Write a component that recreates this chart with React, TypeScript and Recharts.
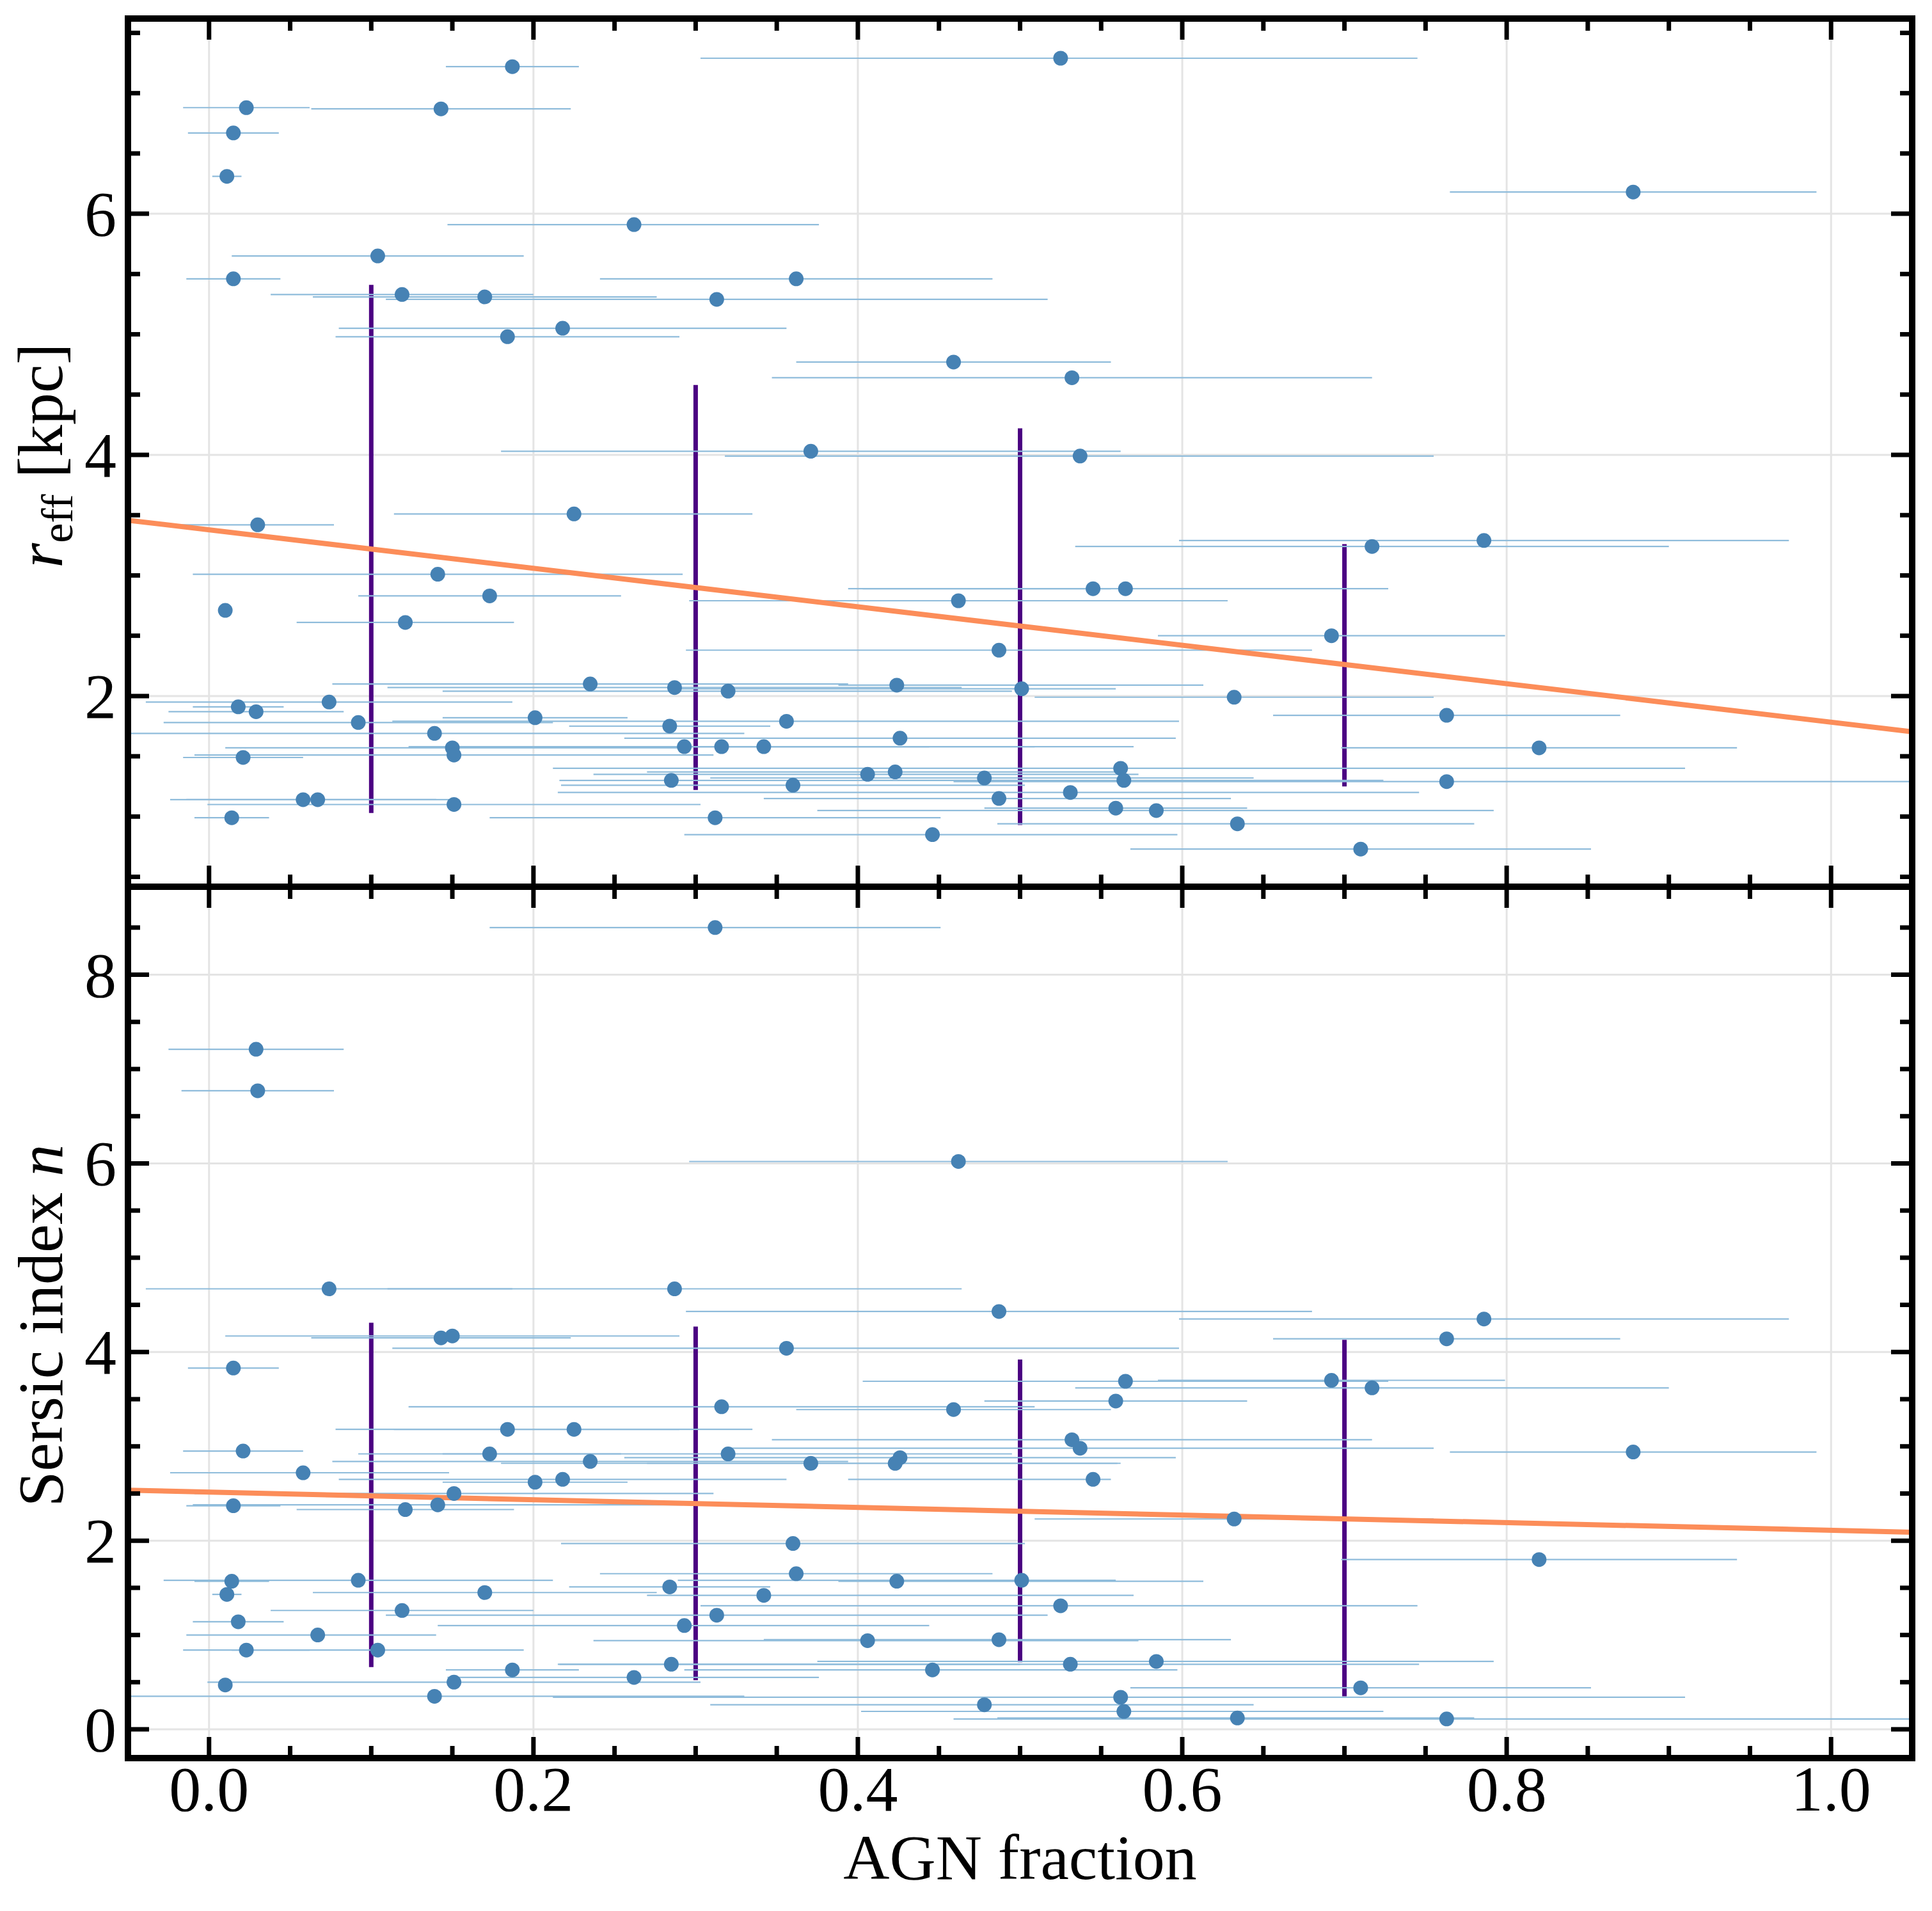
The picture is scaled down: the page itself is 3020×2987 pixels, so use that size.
import { ScatterChart, Scatter, XAxis, YAxis, ErrorBar, ReferenceLine, CartesianGrid } from 'recharts';

// AGN fraction with its asymmetric range, shared by both panels
const agnFraction = [
  0.187, 0.525, 0.023, 0.143, 0.015, 0.011, 0.878, 0.262, 0.104, 0.015,
  0.362, 0.119, 0.170, 0.313, 0.218, 0.184, 0.459, 0.532, 0.371, 0.537,
  0.225, 0.030, 0.786, 0.717, 0.141, 0.545, 0.565, 0.462, 0.173, 0.010,
  0.121, 0.692, 0.487, 0.235, 0.287, 0.320, 0.424, 0.501, 0.632, 0.074,
  0.018, 0.029, 0.201, 0.763, 0.356, 0.092, 0.284, 0.139, 0.426, 0.150,
  0.151, 0.021, 0.293, 0.316, 0.342, 0.820, 0.285, 0.058, 0.067, 0.151,
  0.014, 0.312, 0.406, 0.423, 0.478, 0.562, 0.564, 0.360, 0.531, 0.487,
  0.559, 0.584, 0.634, 0.446, 0.763, 0.710,
];
const agnLow = [
  0.146, 0.303, -0.016, 0.063, -0.013, 0.002, 0.765, 0.147, 0.014, -0.014,
  0.241, 0.038, 0.064, 0.109, 0.080, 0.078, 0.362, 0.347, 0.180, 0.318,
  0.114, -0.017, 0.598, 0.534, -0.010, 0.394, 0.403, 0.296, 0.092, 0.010,
  0.054, 0.585, 0.294, 0.076, 0.110, 0.144, 0.388, 0.289, 0.509, -0.039,
  -0.010, -0.025, 0.144, 0.656, 0.113, -0.028, 0.222, -0.05, 0.256, 0.010,
  -0.009, -0.016, 0.141, 0.123, 0.270, 0.698, 0.216, -0.024, -0.014, -0.001,
  -0.009, 0.173, 0.237, 0.270, 0.309, 0.212, 0.402, 0.217, 0.215, 0.342,
  0.478, 0.375, 0.486, 0.293, 0.459, 0.568,
];
const agnHigh = [
  0.228, 0.745, 0.062, 0.223, 0.043, 0.020, 0.991, 0.376, 0.194, 0.044,
  0.483, 0.200, 0.276, 0.517, 0.356, 0.290, 0.556, 0.717, 0.562, 0.755,
  0.335, 0.077, 0.974, 0.900, 0.292, 0.556, 0.727, 0.628, 0.254, 0.010,
  0.188, 0.799, 0.680, 0.394, 0.464, 0.495, 0.613, 0.559, 0.755, 0.187,
  0.046, 0.083, 0.258, 0.870, 0.598, 0.212, 0.346, 0.330, 0.596, 0.290,
  0.311, 0.058, 0.444, 0.509, 0.570, 0.942, 0.500, 0.148, 0.140, 0.303,
  0.037, 0.451, 0.573, 0.560, 0.644, 0.910, 0.724, 0.503, 0.746, 0.630,
  0.640, 0.792, 0.780, 0.597, 1.050, 0.852,
];
const rEff = [
  7.22, 7.29, 6.88, 6.87, 6.67, 6.31, 6.18, 5.91, 5.65, 5.46,
  5.46, 5.33, 5.31, 5.29, 5.05, 4.98, 4.77, 4.64, 4.03, 3.99,
  3.51, 3.42, 3.29, 3.24, 3.01, 2.89, 2.89, 2.79, 2.83, 2.71,
  2.61, 2.50, 2.38, 2.10, 2.07, 2.04, 2.09, 2.06, 1.99, 1.95,
  1.91, 1.87, 1.82, 1.84, 1.79, 1.78, 1.75, 1.69, 1.65, 1.57,
  1.51, 1.49, 1.58, 1.58, 1.58, 1.57, 1.30, 1.14, 1.14, 1.10,
  0.99, 0.99, 1.35, 1.37, 1.32, 1.40, 1.30, 1.26, 1.20, 1.15,
  1.07, 1.05, 0.94, 0.85, 1.29, 0.73,
];
const sersicN = [
  0.63, 1.31, 0.84, 4.15, 3.83, 1.43, 2.94, 0.55, 0.84, 2.37,
  1.65, 1.26, 1.45, 1.21, 2.65, 3.18, 3.39, 3.07, 2.82, 2.98,
  3.18, 6.77, 4.35, 3.62, 2.38, 2.65, 3.69, 6.02, 2.92, 0.47,
  2.33, 3.70, 4.43, 2.84, 4.67, 2.92, 1.57, 1.58, 2.23, 4.67,
  1.14, 7.21, 2.62, 4.14, 4.04, 1.58, 1.51, 0.35, 2.88, 4.17,
  2.50, 2.95, 1.10, 3.42, 1.42, 1.80, 0.69, 2.72, 1.00, 0.50,
  1.57, 8.50, 0.94, 2.82, 0.26, 0.34, 0.19, 1.97, 0.69, 0.95,
  3.48, 0.72, 0.12, 0.63, 0.11, 0.44,
];

// binned spread
const binCentres = [0.1, 0.3, 0.5, 0.7];
const binLowR = [1.03, 1.22, 0.93, 1.25];
const binHighR = [5.41, 4.58, 4.22, 3.26];
const binLowN = [0.66, 0.52, 0.71, 0.35];
const binHighN = [4.31, 4.27, 3.92, 4.13];

// linear fits
const fitX = [-0.05, 1.05];
const fitR = [3.458, 1.703];
const fitN = [2.535, 2.09];

// ticks
const xMajorTicks = [0, 0.2, 0.4, 0.6, 0.8, 1.0];
const xMinorTicks = [0.05, 0.1, 0.15, 0.25, 0.3, 0.35, 0.45, 0.5, 0.55, 0.65, 0.7, 0.75, 0.85, 0.9, 0.95];
const yMajorR = [2, 4, 6];
const yMinorR = [0.5, 1, 1.5, 2.5, 3, 3.5, 4.5, 5, 5.5, 6.5, 7, 7.5];
const yMajorN = [0, 2, 4, 6, 8];
const yMinorN = [0.5, 1, 1.5, 2.5, 3, 3.5, 4.5, 5, 5.5, 6.5, 7, 7.5, 8.5];

const xDomain = [-0.05, 1.05];
const rDomain = [0.418, 7.619];
const nDomain = [-0.305, 8.933];

const W = 3020;
const H = 2987;
const PLOT_LEFT = 200;
const PLOT_RIGHT = 2989;
const TOP_Y = 29;
const MID_Y = 1386;
const BOTTOM_Y = 2748;
const MAJOR_LEN = 33;
const MINOR_LEN = 19;
const TICK_W = 7;
const FONT = "'Liberation Serif', 'Times New Roman', serif";

const DOT = '#4682b4';
const ERR = '#8fbcdb';
const FIT = '#fc8d59';
const BIN = '#4b0082';

const sortNum = (a: number[]) => [...a].sort((p, q) => p - q);
const xTicks = sortNum([...xMajorTicks, ...xMinorTicks]);

const makeXTick = (top: number, bottom: number, labels: boolean) => (props: any) => {
  const { x, payload } = props;
  const v = payload.value;
  const major = xMajorTicks.includes(v);
  const len = major ? MAJOR_LEN : MINOR_LEN;
  return (
    <g>
      <line x1={x} x2={x} y1={bottom} y2={bottom - len} stroke="#000" strokeWidth={TICK_W} />
      <line x1={x} x2={x} y1={top} y2={top + len} stroke="#000" strokeWidth={TICK_W} />
      {labels && major && (
        <text x={x} y={bottom + 82} textAnchor="middle" fontSize={100} fontFamily={FONT} fill="#000">
          {v.toFixed(1)}
        </text>
      )}
    </g>
  );
};

const makeYTick = (majors: number[]) => (props: any) => {
  const { y, payload } = props;
  const v = payload.value;
  const major = majors.includes(v);
  const len = major ? MAJOR_LEN : MINOR_LEN;
  return (
    <g>
      <line x1={PLOT_LEFT} x2={PLOT_LEFT + len} y1={y} y2={y} stroke="#000" strokeWidth={TICK_W} />
      <line x1={PLOT_RIGHT} x2={PLOT_RIGHT - len} y1={y} y2={y} stroke="#000" strokeWidth={TICK_W} />
      {major && (
        <text x={182} y={y + 34} textAnchor="end" fontSize={100} fontFamily={FONT} fill="#000">
          {v}
        </text>
      )}
    </g>
  );
};

const dotShape = (p: any) => <circle cx={p.cx} cy={p.cy} r={11.5} fill={DOT} />;
const noShape = () => <g />;

interface PanelProps {
  values: number[];
  yDomain: number[];
  yMajor: number[];
  yMinor: number[];
  binLow: number[];
  binHigh: number[];
  fit: number[];
  height: number;
  margin: { top: number; bottom: number };
  plotTop: number;
  plotBottom: number;
  showXLabels: boolean;
}

const Panel = ({ values, yDomain, yMajor, yMinor, binLow, binHigh, fit, height, margin, plotTop, plotBottom, showXLabels }: PanelProps) => {
  const rows = agnFraction.map((x, i) => ({
    x,
    y: values[i],
    err: [x - agnLow[i], agnHigh[i] - x],
  }));
  const fitPts = fitX.map((x, i) => ({ x, y: fit[i] }));
  const yTicks = sortNum([...yMajor, ...yMinor]);
  // axes get a 1px band (a zero-sized axis is not drawn); margins absorb it
  return (
    <ScatterChart
      width={W}
      height={height}
      margin={{ top: margin.top, bottom: margin.bottom - 1, left: PLOT_LEFT - 1, right: W - PLOT_RIGHT }}
    >
      <CartesianGrid verticalValues={xMajorTicks} horizontalValues={yMajor} stroke="#e4e4e4" strokeWidth={3} />
      <XAxis
        type="number"
        dataKey="x"
        domain={xDomain}
        ticks={xTicks}
        interval={0}
        allowDataOverflow
        height={1}
        axisLine={false}
        tickLine={false}
        tick={makeXTick(plotTop, plotBottom, showXLabels)}
      />
      <YAxis
        type="number"
        dataKey="y"
        domain={yDomain}
        ticks={yTicks}
        interval={0}
        allowDataOverflow
        width={1}
        axisLine={false}
        tickLine={false}
        tick={makeYTick(yMajor)}
      />
      <Scatter data={fitPts} line={{ stroke: FIT, strokeWidth: 8 }} shape={noShape} isAnimationActive={false} />
      {binCentres.map((b, i) => (
        <ReferenceLine
          key={b}
          segment={[{ x: b, y: binLow[i] }, { x: b, y: binHigh[i] }]}
          stroke={BIN}
          strokeWidth={7}
        />
      ))}
      <Scatter data={rows} shape={dotShape} isAnimationActive={false} />
      <Scatter data={rows} shape={noShape} isAnimationActive={false}>
        <ErrorBar dataKey="err" direction="x" width={0} stroke={ERR} strokeWidth={2.2} isAnimationActive={false} />
      </Scatter>
    </ScatterChart>
  );
};

export default function App() {
  const bottomHeight = H - MID_Y;
  return (
    <div style={{ position: 'absolute', left: 0, top: 0, width: W, height: H, background: '#fff' }}>
      <div style={{ position: 'absolute', left: 0, top: 0 }}>
        <Panel
          values={rEff}
          yDomain={rDomain}
          yMajor={yMajorR}
          yMinor={yMinorR}
          binLow={binLowR}
          binHigh={binHighR}
          fit={fitR}
          height={MID_Y + 1}
          margin={{ top: TOP_Y, bottom: 1 }}
          plotTop={TOP_Y}
          plotBottom={MID_Y}
          showXLabels={false}
        />
      </div>
      <div style={{ position: 'absolute', left: 0, top: MID_Y }}>
        <Panel
          values={sersicN}
          yDomain={nDomain}
          yMajor={yMajorN}
          yMinor={yMinorN}
          binLow={binLowN}
          binHigh={binHighN}
          fit={fitN}
          height={bottomHeight}
          margin={{ top: 0, bottom: bottomHeight - (BOTTOM_Y - MID_Y) }}
          plotTop={0}
          plotBottom={BOTTOM_Y - MID_Y}
          showXLabels
        />
      </div>
      <svg
        width={W}
        height={H}
        style={{ position: 'absolute', left: 0, top: 0, pointerEvents: 'none' }}
        fontFamily={FONT}
      >
        <rect x={PLOT_LEFT} y={TOP_Y} width={PLOT_RIGHT - PLOT_LEFT} height={MID_Y - TOP_Y} fill="none" stroke="#000" strokeWidth={10} />
        <rect x={PLOT_LEFT} y={MID_Y} width={PLOT_RIGHT - PLOT_LEFT} height={BOTTOM_Y - MID_Y} fill="none" stroke="#000" strokeWidth={10} />
        <text x={97} y={712} transform="rotate(-90 97 712)" textAnchor="middle" fontSize={100} fill="#000">
          <tspan fontStyle="italic">r</tspan>
          <tspan fontSize={70} dy={16}>eff</tspan>
          <tspan dy={-16}> [kpc]</tspan>
        </text>
        <text x={97} y={2072} transform="rotate(-90 97 2072)" textAnchor="middle" fontSize={100} fill="#000">
          Sersic index <tspan fontStyle="italic">n</tspan>
        </text>
        <text x={(PLOT_LEFT + PLOT_RIGHT) / 2} y={2937} textAnchor="middle" fontSize={100} fill="#000">
          AGN fraction
        </text>
      </svg>
    </div>
  );
}
